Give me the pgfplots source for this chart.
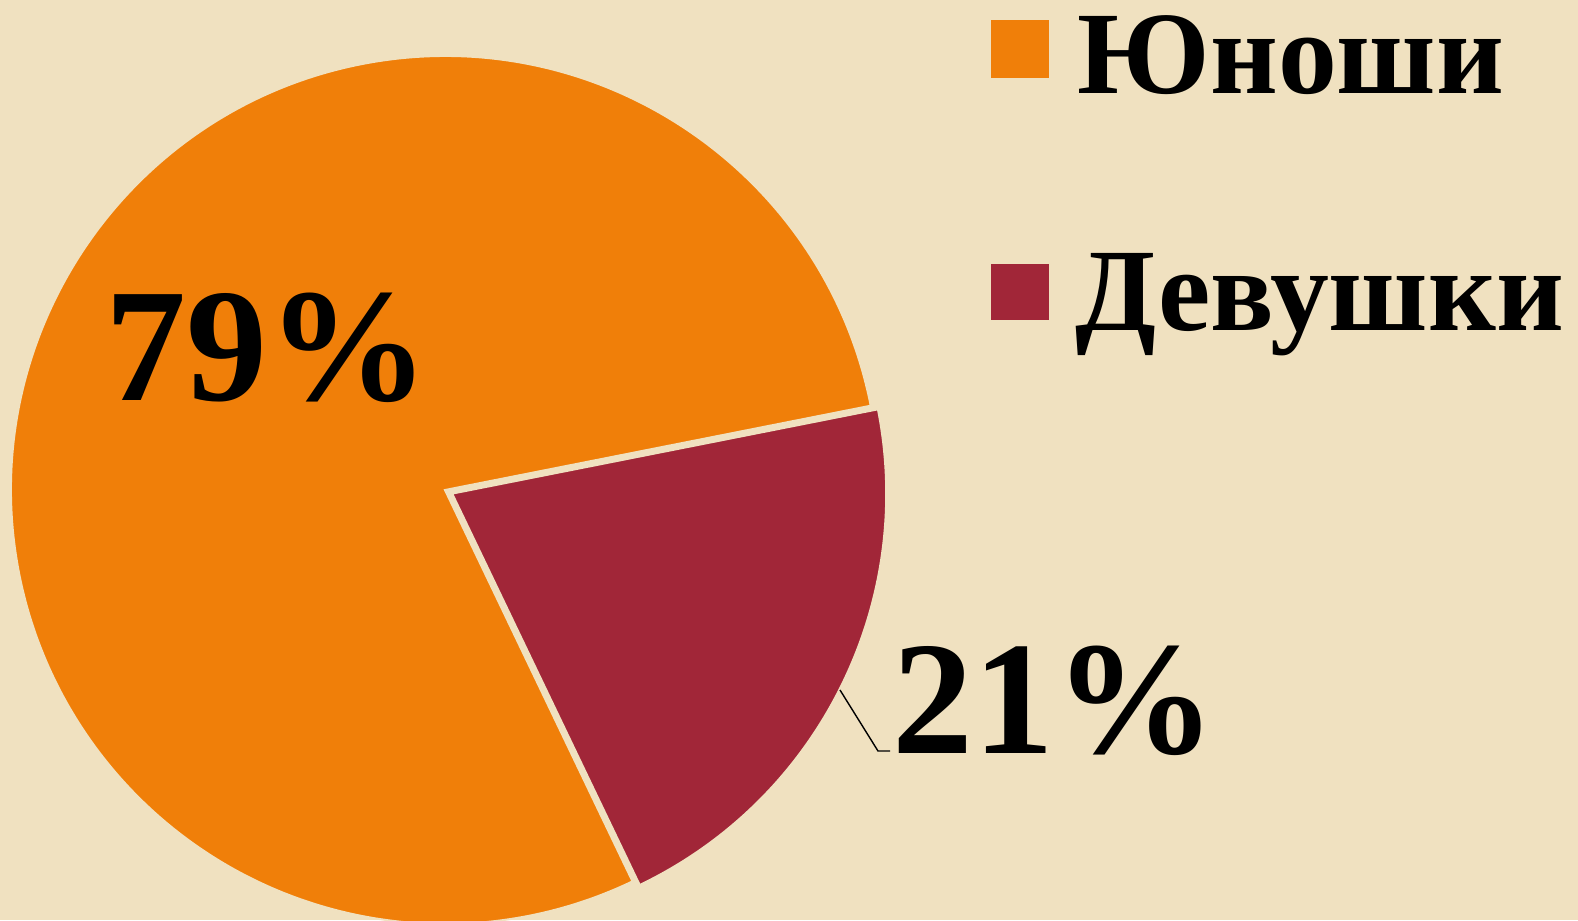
\documentclass[border=0pt]{standalone}
\usepackage{pgfplots}
\pgfplotsset{compat=1.18}
\usepackage{fontspec}
\setmainfont{Liberation Serif}[BoldFont={Liberation Serif Bold}]
\definecolor{bgc}{RGB}{240,225,192}
\definecolor{sliceA}{RGB}{240,127,9}
\definecolor{sliceB}{RGB}{161,38,56}
\begin{document}
\begin{tikzpicture}
\useasboundingbox (0,0) rectangle (15.78cm,9.2cm);
\clip (0,0) rectangle (15.78cm,9.2cm);
\fill[bgc] (0,0) rectangle (15.78cm,9.2cm);
% data (percent)
\def\valA{79}% Юноши
\def\valB{21}% Девушки
\pgfmathsetmacro{\startA}{11.2}
\pgfmathsetmacro{\deltaA}{3.6*\valA}
\pgfmathsetmacro{\deltaB}{3.6*\valB}
\pgfmathsetmacro{\startB}{\startA+\deltaA}
\begin{axis}[
  at={(0,0)}, anchor=south west,
  width=15.78cm, height=9.2cm, scale only axis,
  xmin=0, xmax=1578, ymin=0, ymax=920,
  hide axis, clip=true,
]
% Юноши slice
\fill[sliceA, draw=bgc, line width=0.2mm]
  (axis cs:445,430) -- ++(\startA:43.4mm)
  arc[start angle=\startA, delta angle=\deltaA, radius=43.4mm] -- cycle;
% Девушки slice (exploded)
\fill[sliceB, draw=bgc, line width=0.2mm]
  (axis cs:452.2,426.4) -- ++(\startB:43.4mm)
  arc[start angle=\startB, delta angle=\deltaB, radius=43.4mm] -- cycle;
% data labels
\node[anchor=base west, inner sep=0pt, font=\fontsize{46}{50}\selectfont\bfseries]
  at (axis cs:105,520) {79\%};
\draw[black, line width=0.4pt] (axis cs:840,230) -- (axis cs:878,169) -- (axis cs:890,169);
\node[anchor=base west, inner sep=0pt, font=\fontsize{46}{50}\selectfont\bfseries]
  at (axis cs:892,167) {21\%};
% legend
\fill[sliceA] (axis cs:991,900) rectangle (axis cs:1049,842.5);
\fill[sliceB] (axis cs:991,656) rectangle (axis cs:1049,600);
\node[anchor=base west, inner sep=0pt, font=\fontsize{33.5}{40}\selectfont\bfseries]
  at (axis cs:1077,827) {Юноши};
\node[anchor=base west, inner sep=0pt, font=\fontsize{33.5}{40}\selectfont\bfseries]
  at (axis cs:1075,590) {Девушки};
\end{axis}
\end{tikzpicture}
\end{document}
